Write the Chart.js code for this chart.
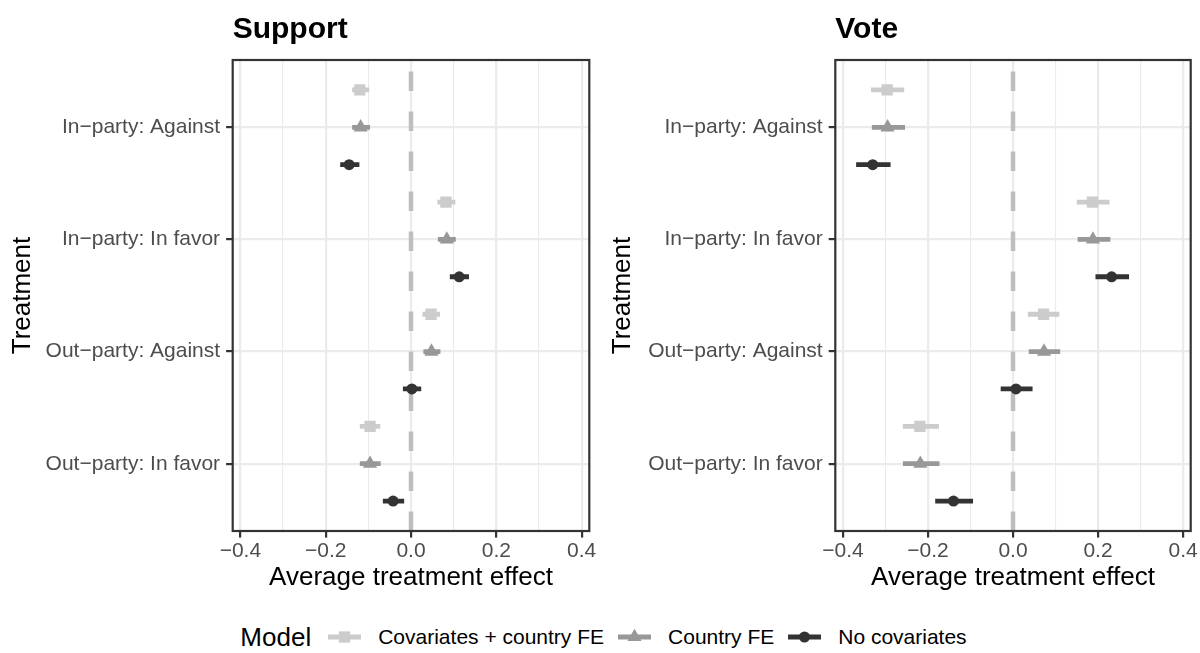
<!DOCTYPE html>
<html>
<head>
<meta charset="utf-8">
<script src="https://cdn.jsdelivr.net/npm/chart.js@4.4.1/dist/chart.umd.min.js"></script>
<style>
  body { margin: 0; background: #fff; width: 1200px; height: 653px; position: relative; overflow: hidden;
         font-family: "Liberation Sans", Arial, Helvetica, sans-serif; }
  canvas { position: absolute; top: 0; }
  #support { left: 0; }
  #vote { left: 600px; }
  #legend { position: absolute; left: 0; top: 620px; width: 1200px; height: 34px; padding-left: 7px;
            box-sizing: border-box; display: flex; justify-content: center; align-items: center; color: #000; }
  #legend .ltitle { font-size: 26px; margin-right: 17px; }
  #legend .key { display: inline-block; width: 33px; height: 22px; margin-right: 17px; }
  #legend .key svg { display: block; }
  #legend .lab { font-size: 21px; }
  #legend .lab + .key { margin-left: 14px; }
</style>
</head>
<body>
<canvas id="support" width="600" height="600"></canvas>
<canvas id="vote" width="600" height="600"></canvas>
<div id="legend"></div>
<script>
const treatments = ['In−party: Against', 'In−party: In favor', 'Out−party: Against', 'Out−party: In favor'];
const models = ['Covariates + country FE', 'Country FE', 'No covariates'];
const xTicks = [-0.4, -0.2, 0, 0.2, 0.4];
const xTickLabels = ['−0.4', '−0.2', '0.0', '0.2', '0.4'];

// each row: [lower, estimate, upper], one row per treatment
const supportCovFE = [[-0.138, -0.120, -0.098], [0.062, 0.082, 0.104], [0.027, 0.047, 0.068], [-0.120, -0.096, -0.072]];
const supportFE    = [[-0.138, -0.118, -0.096], [0.063, 0.084, 0.105], [0.029, 0.048, 0.069], [-0.120, -0.096, -0.071]];
const supportNoCov = [[-0.166, -0.145, -0.121], [0.091, 0.113, 0.136], [-0.019, 0.002, 0.024], [-0.066, -0.042, -0.016]];

const voteCovFE = [[-0.334, -0.296, -0.256], [0.150, 0.187, 0.227], [0.035, 0.072, 0.109], [-0.259, -0.219, -0.174]];
const voteFE    = [[-0.332, -0.295, -0.254], [0.152, 0.188, 0.229], [0.037, 0.073, 0.111], [-0.259, -0.218, -0.173]];
const voteNoCov = [[-0.369, -0.330, -0.288], [0.194, 0.232, 0.273], [-0.029, 0.007, 0.046], [-0.183, -0.140, -0.094]];

const zeroLine = 0;

const FONT = '"Liberation Sans", Arial, Helvetica, sans-serif';
const modelStyles = [
    { color: '#cccccc', shape: 'rect', radius: 8 },
    { color: '#989898', shape: 'triangle', radius: 8.2 },
    { color: '#333333', shape: 'circle', radius: 5.5 },
];
const dodge = 0.333;
const xLimit = 0.418;
const yMin = 0.4, yMax = 4.6;

// grid every 0.1, labels only on the 0.2 steps
const gridSteps = [];
xTicks.forEach((v, i) => {
    gridSteps.push(v);
    if (i < xTicks.length - 1) gridSteps.push((v + xTicks[i + 1]) / 2);
});
const majorIndex = v => xTicks.findIndex(t => Math.abs(t - v) < 1e-9);
const isMajor = c => c.tick && majorIndex(c.tick.value) >= 0;

// border around the plotting area plus the panel heading
const panelFrame = {
    id: 'panelFrame',
    afterDraw(chart, args, opts) {
        const { ctx, chartArea: a } = chart;
        ctx.save();
        ctx.strokeStyle = '#333333';
        ctx.lineWidth = 2.2;
        ctx.strokeRect(a.left, a.top, a.right - a.left, a.bottom - a.top);
        ctx.fillStyle = '#000';
        ctx.font = 'bold 30px ' + FONT;
        ctx.textBaseline = 'alphabetic';
        ctx.textAlign = 'left';
        ctx.fillText(opts.text, a.left, 38.3);
        ctx.restore();
    }
};

const makePanel = (canvasId, title, series, yWidth, padRight) => {
    const datasets = [];
    // dashed reference line at zero, underneath everything else
    datasets.push({
        data: [{ x: zeroLine, y: yMax }, { x: zeroLine, y: yMin }],
        showLine: true, borderColor: '#bebebe', borderWidth: 4.5,
        borderDash: [19.5, 20.5], borderCapStyle: 'butt', pointRadius: 0, order: 10
    });
    series.forEach((rows, m) => {
        const style = modelStyles[m];
        const off = (m - 1) * dodge;
        const bars = [];
        rows.forEach((r, i) => {
            const y = i + 1 + off;
            bars.push({ x: r[0], y: y }, { x: r[2], y: y }, { x: r[2], y: null });
        });
        datasets.push({
            data: bars, showLine: true, spanGaps: false, borderColor: style.color,
            borderWidth: 4.8, borderCapStyle: 'butt', pointRadius: 0, order: 1
        });
        datasets.push({
            data: rows.map((r, i) => ({ x: r[1], y: i + 1 + off })),
            pointStyle: style.shape, pointRadius: style.radius,
            backgroundColor: style.color, borderWidth: 0, order: 0
        });
    });

    let ctx = document.getElementById(canvasId).getContext('2d');
    return new Chart(ctx, {
        type: 'scatter',
        data: { datasets },
        options: {
            responsive: false,
            animation: false,
            devicePixelRatio: 1,
            events: [],
            layout: { padding: { top: 60, right: padRight, bottom: 6.4, left: 0 } },
            plugins: {
                legend: { display: false },
                tooltip: { enabled: false },
                panelFrame: { text: title }
            },
            scales: {
                x: {
                    type: 'linear', min: -xLimit, max: xLimit,
                    afterBuildTicks: s => { s.ticks = gridSteps.map(v => ({ value: v })); },
                    afterFit: s => { s.height = 62.6; s.paddingLeft = 0; s.paddingRight = 0; },
                    ticks: {
                        autoSkip: false, maxRotation: 0, padding: 1, color: '#4d4d4d',
                        font: { family: FONT, size: 21 },
                        callback: v => { const k = majorIndex(v); return k < 0 ? '' : xTickLabels[k]; }
                    },
                    grid: {
                        color: '#ebebeb',
                        lineWidth: c => isMajor(c) ? 2.2 : 1.1,
                        tickColor: c => isMajor(c) ? '#333333' : 'rgba(0,0,0,0)',
                        tickWidth: 2.2, tickLength: 6.6
                    },
                    border: { display: false },
                    title: {
                        display: true, text: 'Average treatment effect', color: '#000',
                        font: { family: FONT, size: 26 }, padding: { top: 0, bottom: 0 }
                    }
                },
                y: {
                    type: 'linear', reverse: true, min: yMin, max: yMax,
                    afterBuildTicks: s => { s.ticks = treatments.map((t, i) => ({ value: i + 1 })); },
                    afterFit: s => { s.width = yWidth; s.paddingTop = 0; s.paddingBottom = 0; },
                    ticks: {
                        autoSkip: false, padding: 6, color: '#4d4d4d',
                        font: { family: FONT, size: 21 },
                        callback: v => treatments[v - 1]
                    },
                    grid: { color: '#ebebeb', lineWidth: 2.2, tickColor: '#333333', tickWidth: 2.2, tickLength: 6.6 },
                    border: { display: false },
                    title: {
                        display: true, text: 'Treatment', color: '#000',
                        font: { family: FONT, size: 26 }, padding: { top: 7.2, bottom: 0 }
                    }
                }
            }
        },
        plugins: [panelFrame]
    });
};

makePanel('support', 'Support', [supportCovFE, supportFE, supportNoCov], 232.7, 10.7);
makePanel('vote', 'Vote', [voteCovFE, voteFE, voteNoCov], 235.3, 9.3);

// legend keys: a line segment with the model's marker on it
const keySvg = s => {
    const cx = 16.5, cy = 11;
    let mark;
    if (s.shape === 'rect') {
        const side = s.radius * Math.SQRT2;
        mark = `<rect x="${cx - side / 2}" y="${cy - side / 2}" width="${side}" height="${side}" fill="${s.color}"/>`;
    } else if (s.shape === 'triangle') {
        const r = s.radius, h = r * Math.sqrt(3) / 2;
        mark = `<polygon points="${cx},${cy - r} ${cx - h},${cy + r / 2} ${cx + h},${cy + r / 2}" fill="${s.color}"/>`;
    } else {
        mark = `<circle cx="${cx}" cy="${cy}" r="${s.radius}" fill="${s.color}"/>`;
    }
    return `<svg width="33" height="22"><line x1="0" y1="${cy}" x2="33" y2="${cy}" stroke="${s.color}" stroke-width="4.8"/>${mark}</svg>`;
};

document.getElementById('legend').innerHTML = '<span class="ltitle">Model</span>' +
    models.map((name, m) => `<span class="key">${keySvg(modelStyles[m])}</span><span class="lab">${name}</span>`).join('');
</script>
</body>
</html>
